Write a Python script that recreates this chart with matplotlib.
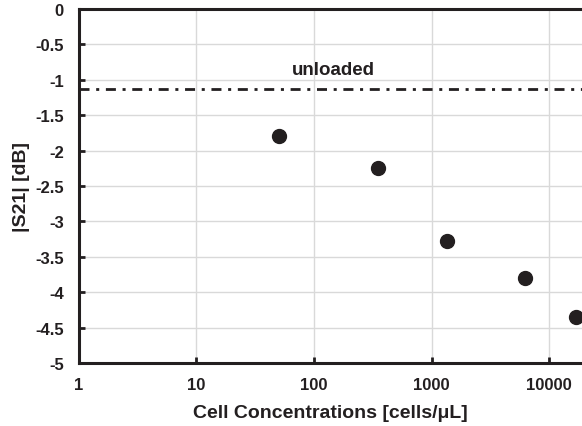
import numpy as np
import matplotlib
matplotlib.use("Agg")
import matplotlib.pyplot as plt

plt.rcParams["font.family"] = ["Liberation Sans", "DejaVu Sans"]
plt.rcParams["font.weight"] = "bold"

# Dati
concentrations = [50, 350, 1350, 6300, 17000]
s21_db = [-1.80, -2.24, -3.27, -3.80, -4.35]
unloaded_db = -1.13
x_ticks = [1, 10, 100, 1000, 10000]
x_tick_labels = ["1", "10", "100", "1000", "10000"]
y_ticks = [0, -0.5, -1, -1.5, -2, -2.5, -3, -3.5, -4, -4.5, -5]
y_tick_labels = ["0", "-0.5", "-1", "-1.5", "-2", "-2.5", "-3", "-3.5", "-4", "-4.5", "-5"]

dark = "#231f20"

fig = plt.figure(figsize=(5.82, 4.27), dpi=100)
ax = fig.add_axes([0.1357, 0.1475, 1.0 - 0.1357, 0.9766 - 0.1475])

ax.set_xscale("log")
ax.set_xlim(1, 10 ** (4 + 33 / 117.6))
ax.set_ylim(-5, 0)

ax.axhline(unloaded_db, color=dark, lw=2.0, dashes=(3.6, 2.4, 1.1, 2.4))
ax.text(145, -0.85, "unloaded", ha="center", va="center", fontsize=13.5,
        fontweight="bold", color=dark)

ax.plot(concentrations, s21_db, "o", color=dark, ms=10, zorder=3)

ax.set_xticks(x_ticks)
ax.set_xticklabels(x_tick_labels)
ax.xaxis.set_minor_locator(matplotlib.ticker.NullLocator())
ax.set_yticks(y_ticks)
ax.set_yticklabels(y_tick_labels)

ax.grid(True, color="#d9d9d9", lw=1.0)
ax.set_axisbelow(True)

for side in ["left", "bottom", "top"]:
    ax.spines[side].set_linewidth(2.2)
    ax.spines[side].set_color(dark)
ax.spines["right"].set_visible(False)

ax.tick_params(axis="both", direction="in", length=4, width=2, color=dark,
               labelsize=12, labelcolor=dark)
ax.tick_params(axis="y", pad=11)
ax.tick_params(axis="x", pad=10)
for lbl in ax.get_xticklabels() + ax.get_yticklabels():
    lbl.set_fontweight("bold")

ax.set_xlabel("Cell Concentrations [cells/μL]", fontsize=14, fontweight="bold",
              color=dark, labelpad=9)
ax.set_ylabel("|S21| [dB]", fontsize=14, fontweight="bold", color=dark, labelpad=4)

plt.savefig("out.png", dpi=100)
plt.close()
